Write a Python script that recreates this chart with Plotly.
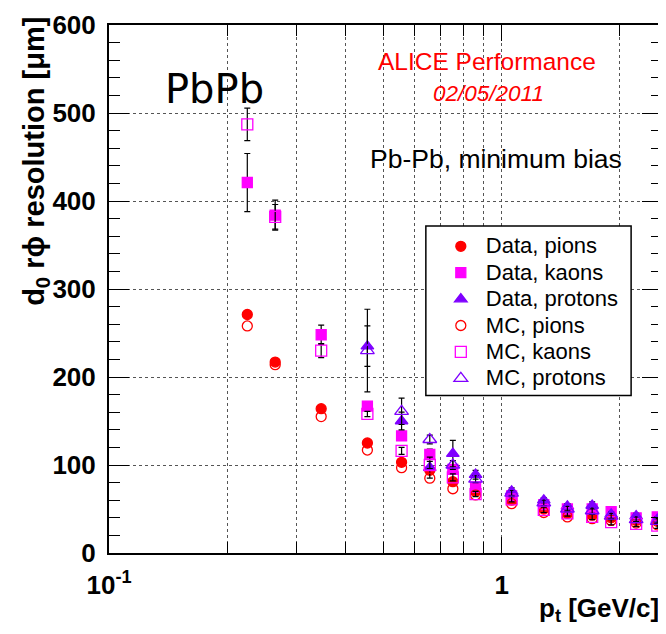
import math
import plotly.graph_objects as go

# ---- data ----
pt = [0.225, 0.265, 0.347, 0.455, 0.556, 0.656, 0.751, 0.858, 1.06, 1.28, 1.47, 1.70, 1.90, 2.20, 2.49]
pt_proton = [0.455, 0.556, 0.656, 0.751, 0.858, 1.06, 1.28, 1.47, 1.70, 1.90, 2.20, 2.49]

data_pion = [271, 217, 164, 125, 103, 94, 81, 70, 60, 50, 45, 43, 40, 37, 36]
mc_pion = [258, 214, 155, 117, 97, 85, 73, 66, 56, 46, 41, 39, 37, 34, 32]

data_kaon = [421, 384, 248, 167, 133, 112, 95, 75, 65, 55, 50, 50, 47, 40, 41]
data_kaon_err = [33, 17, 11, 4, 5, 6, 5, 4, 3, 3, 3, 4, 4, 3, 3]
mc_kaon = [487, 382, 230, 158, 116, 100, 86, 67, 61, 49, 45, 41, 35, 33, 31]
mc_kaon_err = [18.5, 14, 8, 3, 4, 4, 4, 3, 3, 3, 3, 3, 3, 3, 3]

data_proton = [235, 150, 97, 113, 89, 70, 60, 53, 54, 44, 42, 38]
data_proton_err = [23, 10, 12, 15, 5, 4, 3, 3, 4, 3, 3, 3]
mc_proton = [230, 161, 129, 100, 84, 68, 57, 50, 48, 42, 38, 36]
mc_proton_err = [47, 15, 5, 5, 4, 3, 3, 3, 3, 3, 3, 3]

x_range = [0.1, 2.56]
y_range = [0, 600]
x_major = [0.1, 1]
x_major_text = ["10<sup>-1</sup>", "1"]
x_minor = [0.2, 0.3, 0.4, 0.5, 0.6, 0.7, 0.8, 0.9, 2]

RED = "#FF0000"
MAG = "#FF00FF"
VIO = "#7F00FF"
FONT = "Liberation Sans, Arial, sans-serif"

fig = go.Figure()

def err(arr):
    if arr is None:
        return dict(visible=False)
    return dict(type="data", array=arr, visible=True, color="black", thickness=1.2, width=3)

series = [
    ("Data, pions", pt, data_pion, None, "circle", RED, 10),
    ("Data, kaons", pt, data_kaon, data_kaon_err, "square", MAG, 10),
    ("Data, protons", pt_proton, data_proton, data_proton_err, "triangle-up", VIO, 11),
    ("MC, pions", pt, mc_pion, None, "circle-open", RED, 10),
    ("MC, kaons", pt, mc_kaon, mc_kaon_err, "square-open", MAG, 11),
    ("MC, protons", pt_proton, mc_proton, mc_proton_err, "triangle-up-open", VIO, 12),
]
for i, (name, xs, ys, es, sym, col, sz) in enumerate(series):
    fig.add_trace(go.Scatter(
        x=xs, y=ys, mode="markers",
        name='<span style="font-size:22px">%s</span>' % name,
        error_y=err(es),
        marker=dict(symbol=sym, color=col, size=sz, line=dict(color=col, width=1.3)),
    ))

# page is drawn with an 8px body offset; work in reference pixels
OFF = 8
W, H = 666 - OFF, 634 - OFF
PL, PR, PT, PB = 109, 664, 20, 553          # plot frame in reference pixels
ml, mr, mt, mb = PL - OFF, W - (PR - OFF), PT - OFF, H - (PB - OFF)
pw, ph = PR - PL, PB - PT

def px(x):
    return (x - PL) / pw

def py(y):
    return (PB - y) / ph

def note(text, x, y, size, color="black", family=FONT, **kw):
    d = dict(text=text, x=px(x), y=py(y), xref="paper", yref="paper", showarrow=False,
             xanchor="center", yanchor="middle",
             font=dict(size=size, family=family, color=color))
    d.update(kw)
    return d

fig.update_layout(
    width=W, height=H,
    margin=dict(l=ml, r=mr, t=mt, b=mb),
    paper_bgcolor="white", plot_bgcolor="white",
    font=dict(family=FONT, color="black"),
    showlegend=True,
    legend=dict(
        x=px(437), y=py(225), xanchor="left", yanchor="top",
        bgcolor="rgba(0,0,0,0)", borderwidth=0,
        font=dict(size=18, family=FONT), itemwidth=40,
    ),
    xaxis=dict(
        type="log", range=[math.log10(x_range[0]), math.log10(x_range[1])],
        tickmode="array", tickvals=x_major, ticktext=x_major_text,
        ticks="inside", ticklen=16, tickwidth=1.3, tickcolor="black",
        tickfont=dict(size=26, family=FONT, weight="bold"),
        ticklabelstandoff=8, ticklabeloverflow="allow",
        showline=True, linecolor="black", linewidth=2, mirror="ticks",
        showgrid=True, gridcolor="#555", griddash="dot", gridwidth=1,
        minor=dict(tickmode="array", tickvals=x_minor, ticks="inside", ticklen=11,
                   tickcolor="black", tickwidth=1.3,
                   showgrid=True, gridcolor="#555", griddash="dot", gridwidth=1),
        zeroline=False,
    ),
    yaxis=dict(
        range=y_range, dtick=100, tick0=0,
        ticks="inside", ticklen=20, tickwidth=1.3, tickcolor="black",
        tickfont=dict(size=26, family=FONT, weight="bold"),
        ticklabelstandoff=6, ticklabeloverflow="allow",
        showline=True, linecolor="black", linewidth=2, mirror="ticks",
        showgrid=True, gridcolor="#555", griddash="dot", gridwidth=1,
        minor=dict(dtick=20, ticks="inside", ticklen=11, tickcolor="black", tickwidth=1.3,
                   showgrid=False),
        zeroline=False,
    ),
    shapes=[dict(type="rect", xref="paper", yref="paper",
                 x0=px(427), x1=px(633), y0=py(394), y1=py(223),
                 line=dict(color="black", width=1.5), fillcolor="white", layer="above")],
    annotations=[
        note("PbPb", 215, 85, 40, family="DejaVu Sans, sans-serif"),
        note("ALICE Performance", 488, 57, 24.5, color=RED),
        note("<i>02/05/2011</i>", 490, 89, 22.5, color=RED),
        note("Pb-Pb, minimum bias", 497, 155, 26.5),
        note("<b>d<sub>0</sub> r\u03d5 resolution [\u03bcm]</b>", 35, 10, 29,
             yanchor="top", textangle=-90),
        note("<b>p<sub>t</sub> [GeV/c]</b>", 663, 610, 26, xanchor="right"),
    ],
)

fig.write_html("out.html")
